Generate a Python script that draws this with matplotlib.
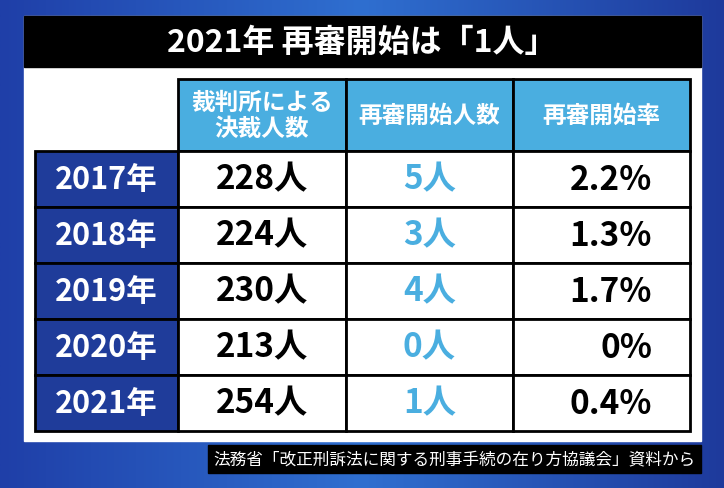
import matplotlib.pyplot as plt
import matplotlib.patches as mp
import numpy as np

plt.rcParams['font.family'] = ['Noto Sans CJK JP', 'DejaVu Sans']

title = '2021年 再審開始は「1人」'
headers = ['裁判所による\n決裁人数', '再審開始人数', '再審開始率']
years = ['2017年', '2018年', '2019年', '2020年', '2021年']
decided = ['228人', '224人', '230人', '213人', '254人']
started = ['5人', '3人', '4人', '0人', '1人']
rates = ['2.2%', '1.3%', '1.7%', '0%', '0.4%']
source = '法務省「改正刑訴法に関する刑事手続の在り方協議会」資料から'

fig = plt.figure(figsize=(7.24, 4.89), dpi=100)
ax = fig.add_axes([0, 0, 1, 1])
ax.set_xlim(0, 724)
ax.set_ylim(489, 0)
ax.axis('off')

# blue background gradient
grad = np.linspace(0, 1, 256)[None, :]
ax.imshow(grad, extent=[0, 724, 489, 0], cmap=plt.matplotlib.colors.LinearSegmentedColormap.from_list('b', ['#1f3fa8', '#2f6fd0', '#1e3a9c']), aspect='auto', zorder=0)

ax.add_patch(mp.Rectangle((24, 17), 677, 425, color='white', zorder=1))
ax.add_patch(mp.Rectangle((24, 17), 677, 51, color='black', zorder=2))
ax.text(362, 43, title, color='white', fontsize=23, fontweight='bold', ha='center', va='center', zorder=3)

cols = [178, 346, 513, 690]
y0, hh, rh = 80, 72, 56
lb = '#4aaee0'
for i, h in enumerate(headers):
    ax.add_patch(mp.Rectangle((cols[i], y0), cols[i+1]-cols[i], hh, facecolor=lb, edgecolor='black', lw=2, zorder=2))
    ax.text((cols[i]+cols[i+1])/2, y0+hh/2, h, color='white', fontsize=17, fontweight='bold', ha='center', va='center', linespacing=1.1, zorder=3)

for r in range(len(years)):
    y = y0 + hh + r*rh
    ax.add_patch(mp.Rectangle((35, y), cols[0]-35, rh, facecolor='#1f3c9a', edgecolor='black', lw=2, zorder=2))
    ax.text((35+cols[0])/2, y+rh/2, years[r], color='white', fontsize=22, fontweight='bold', ha='center', va='center', zorder=3)
    vals = [(decided[r], 'black'), (started[r], lb), (rates[r], 'black')]
    for i, (v, c) in enumerate(vals):
        ax.add_patch(mp.Rectangle((cols[i], y), cols[i+1]-cols[i], rh, facecolor='white', edgecolor='black', lw=2, zorder=2))
        if i == 2:
            ax.text(cols[3]-38, y+rh/2, v, color=c, fontsize=24, fontweight='bold', ha='right', va='center', zorder=3)
        else:
            ax.text((cols[i]+cols[i+1])/2, y+rh/2, v, color=c, fontsize=24, fontweight='bold', ha='center', va='center', zorder=3)

ax.add_patch(mp.Rectangle((208, 446), 493, 28, color='black', zorder=2))
ax.text(454, 460, source, color='white', fontsize=12, ha='center', va='center', zorder=3)

fig.savefig('out.png', dpi=100)
